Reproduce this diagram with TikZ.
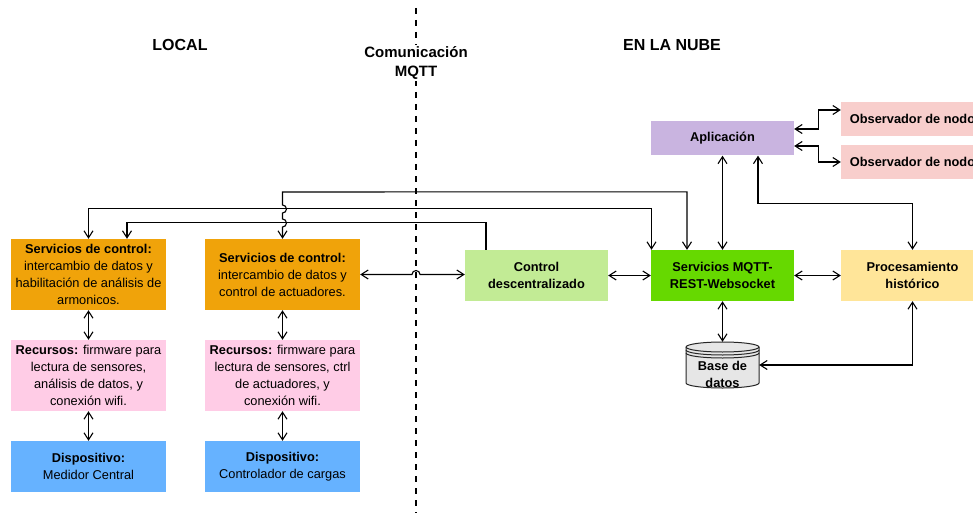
\documentclass[tikz,border=0pt]{standalone}
\usepackage{fontspec}
\setmainfont{Liberation Sans}
\usetikzlibrary{arrows.meta}
\definecolor{corange}{HTML}{F0A30A}
\definecolor{cpink}{HTML}{FFCCE6}
\definecolor{cblue}{HTML}{66B2FF}
\definecolor{clgreen}{HTML}{C2EB95}
\definecolor{cgreen}{HTML}{66D900}
\definecolor{cyellow}{HTML}{FFE599}
\definecolor{cpurple}{HTML}{C9B4E0}
\definecolor{cred}{HTML}{F8CECC}
\definecolor{cgray}{HTML}{E6E6E6}
\begin{document}
\begin{tikzpicture}[x=1pt,y=-1pt,
  >={Straight Barb[length=7pt,width=9pt]},
  box/.style={rectangle, inner sep=0pt, align=center, text=black,
    font=\fontsize{12.8}{17}\selectfont},
  wbox/.style={box, minimum width=155pt},
  nbox/.style={box, minimum width=143pt},
  title/.style={font=\fontsize{16}{19}\selectfont\bfseries, text=black},
  conn/.style={draw=black, line width=1.1pt},
  sep/.style={draw=black, line width=2.4pt, dash pattern=on 6pt off 6pt}
]
\useasboundingbox (0,0) rectangle (973,513);

% separator
\coordinate (mqt) at (416,8);
\coordinate (mqb) at (416,513);
\draw[sep] (mqt) -- (mqb);

% titles
\node[title] (tlocal) at (180,45) {LOCAL};
\node[title] (tnube) at (672,45) {EN LA NUBE};
\node[fill=white, inner sep=1.5pt, align=center, text=black,
      font=\fontsize{15}{18.5}\selectfont\bfseries] (tmqtt) at (416,63) {Comunicación\\MQTT};

% local column 1
\node[wbox, fill=corange, minimum height=71pt] (sc1) at (88.5,274.5)
  {\textbf{Servicios de control:}\\intercambio de datos y\\habilitación de análisis de\\armonicos.};
\node[wbox, fill=cpink, minimum height=71pt] (rec1) at (88.5,375.5)
  {\textbf{Recursos:} firmware para\\lectura de sensores,\\análisis de datos, y\\conexión wifi.};
\node[wbox, fill=cblue, minimum height=51pt] (dev1) at (88.5,466.5)
  {\textbf{Dispositivo:}\\Medidor Central};

% local column 2
\node[wbox, fill=corange, minimum height=71pt] (sc2) at (282.5,274.5)
  {\textbf{Servicios de control:}\\intercambio de datos y\\control de actuadores.};
\node[wbox, fill=cpink, minimum height=71pt] (rec2) at (282.5,375.5)
  {\textbf{Recursos:} firmware para\\lectura de sensores, ctrl\\de actuadores, y\\conexión wifi.};
\node[wbox, fill=cblue, minimum height=51pt] (dev2) at (282.5,466.5)
  {\textbf{Dispositivo:}\\Controlador de cargas};

% cloud
\node[nbox, fill=clgreen, minimum height=51pt, font=\fontsize{12.8}{17}\selectfont\bfseries] (ctrl) at (536.5,275.5)
  {Control\\descentralizado};
\node[nbox, fill=cgreen, minimum height=51pt, font=\fontsize{12.8}{17}\selectfont\bfseries] (svc) at (722.5,275.5)
  {Servicios MQTT-\\REST-Websocket};
\node[nbox, fill=cyellow, minimum height=51pt, font=\fontsize{12.8}{17}\selectfont\bfseries] (proc) at (912.5,275.5)
  {Procesamiento\\histórico};
\node[nbox, fill=cpurple, minimum height=34pt, font=\fontsize{12.8}{17}\selectfont\bfseries] (app) at (722.5,138.5)
  {Aplicación};
\node[nbox, fill=cred, minimum height=34pt, font=\fontsize{12.8}{17}\selectfont\bfseries] (obs1) at (912.5,119)
  {Observador de nodo};
\node[nbox, fill=cred, minimum height=34pt, font=\fontsize{12.8}{17}\selectfont\bfseries] (obs2) at (912.5,162)
  {Observador de nodo};

% database (datastore cylinder)
\node[minimum width=73pt, minimum height=46pt, inner sep=0pt] (db) at (722.5,365) {};
\draw[fill=cgray, draw=black!85, line width=1pt]
  (686,347) -- (686,383) arc[start angle=180, end angle=360, x radius=36.5pt, y radius=5pt]
  -- (759,347) arc[start angle=0, end angle=180, x radius=36.5pt, y radius=5pt] -- cycle;
\draw[draw=black!85, line width=1pt]
  (686,347) arc[start angle=180, end angle=360, x radius=36.5pt, y radius=5pt];
\draw[draw=black!85, line width=1pt]
  (686,350) arc[start angle=180, end angle=360, x radius=36.5pt, y radius=5pt];
\draw[draw=black!85, line width=1pt]
  (686,353) arc[start angle=180, end angle=360, x radius=36.5pt, y radius=5pt];
\node[font=\fontsize{12.8}{17}\selectfont\bfseries, align=center, inner sep=0pt, text=black] (dbt) at (722.5,374) {Base de\\datos};

% local vertical connectors
\draw[conn,<->] (sc1.south) -- (rec1.north);
\draw[conn,<->] (rec1.south) -- (dev1.north);
\draw[conn,<->] (sc2.south) -- (rec2.north);
\draw[conn,<->] (rec2.south) -- (dev2.north);

% long connectors at top
\draw[conn,<->] (sc1.north) -- ++(0,-30) -| ([xshift=-71pt]svc.north);
\draw[conn,->] ([xshift=-50.5pt]ctrl.north) -- ++(0,-27) -| ([xshift=38.5pt]sc1.north);
\draw[conn,<->] ([xshift=-35.5pt]svc.north) -- ++(0,-58) -- (282.5,192) -- (282.5,205)
  arc[start angle=90, end angle=-90, radius=4pt] -- (282.5,219)
  arc[start angle=90, end angle=-90, radius=4pt] -- (sc2.north);

% MQTT link crossing separator
\draw[conn,<->] (sc2.east) -- ([xshift=-4pt]sc2.east -| mqt)
  arc[start angle=180, end angle=0, radius=4pt] -- (ctrl.west |- sc2.east);

% cloud connectors
\draw[conn,<->] (ctrl.east) -- (svc.west);
\draw[conn,<->] (svc.east) -- (proc.west);
\draw[conn,<->] (svc.south) -- (db.north);
\draw[conn,<->] (db.east) -| (proc.south);
\draw[conn,<->] (app.south) -- (svc.north);
\draw[conn,<->] ([xshift=35.5pt]app.south) -- ++(0,48) -| (proc.north);
\draw[conn,<->] ([yshift=9.5pt]app.east) -- ++(24,0) |- ([yshift=9pt]obs1.west);
\draw[conn,<->] ([yshift=-7.5pt]app.east) -- ++(24,0) |- (obs2.west);
\end{tikzpicture}
\end{document}
